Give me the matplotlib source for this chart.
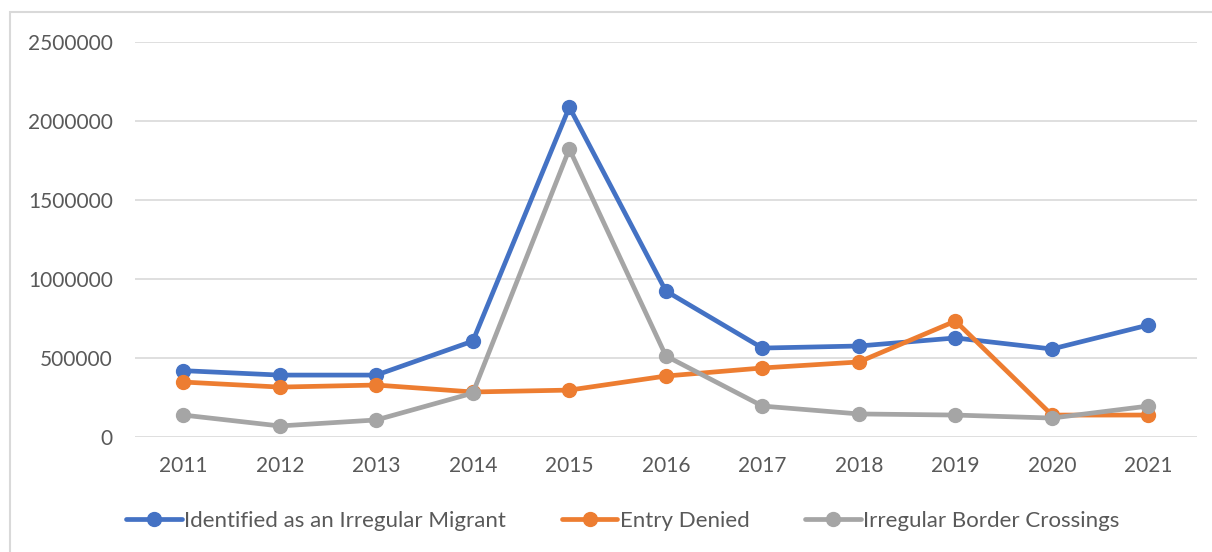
import numpy as np
import matplotlib.pyplot as plt
from matplotlib.patches import Rectangle

plt.rcParams["font.family"] = ["Lato", "DejaVu Sans"]

# Data
years = ["2011", "2012", "2013", "2014", "2015", "2016",
         "2017", "2018", "2019", "2020", "2021"]
identified = [420000, 392000, 392000, 607000, 2088000, 924000,
              563000, 576000, 627000, 557000, 709000]
entry_denied = [348000, 316000, 329000, 285000, 297000, 386000,
                437000, 475000, 734000, 139000, 139000]
border_crossings = [139000, 70000, 108000, 278000, 1823000, 513000,
                    196000, 146000, 139000, 120000, 196000]

series = [
    ("Identified as an Irregular Migrant", identified, "#4472C4"),
    ("Entry Denied", entry_denied, "#ED7D31"),
    ("Irregular Border Crossings", border_crossings, "#A5A5A5"),
]

fig = plt.figure(figsize=(12.12, 5.52), dpi=100)
ax = fig.add_axes([0.1114, 0.2083, 0.876, 0.7156])

x = np.arange(len(years))
for label, vals, color in series:
    ax.plot(x, vals, color=color, linewidth=3.4, marker="o", markersize=10,
            label=label, solid_capstyle="round")

ax.set_xlim(-0.5, len(years) - 0.5)
ax.set_ylim(0, 2500000)
ax.set_yticks(np.arange(0, 2500001, 500000))
ax.set_yticklabels([str(v) for v in range(0, 2500001, 500000)])
ax.set_xticks(x)
ax.set_xticklabels(years)
ax.yaxis.grid(True, color="#D9D9D9", linewidth=1.2)
ax.set_axisbelow(True)
for s in ax.spines.values():
    s.set_visible(False)
ax.tick_params(axis="both", length=0, labelsize=15, colors="#595959")
ax.tick_params(axis="y", pad=16)
ax.tick_params(axis="x", pad=14)

fig.legend(loc="center", bbox_to_anchor=(0.514, 0.056), ncol=3, frameon=False,
           fontsize=16, handlelength=2.5, columnspacing=2.5, handletextpad=0.12,
           labelcolor="#595959")

# outer chart border
fig.patches.append(Rectangle((10 / 1212, -0.1), 1.2, 1.1 - 12 / 552,
                             transform=fig.transFigure, fill=False,
                             edgecolor="#D9D9D9", linewidth=1.5))

fig.savefig("out.png", dpi=100)
